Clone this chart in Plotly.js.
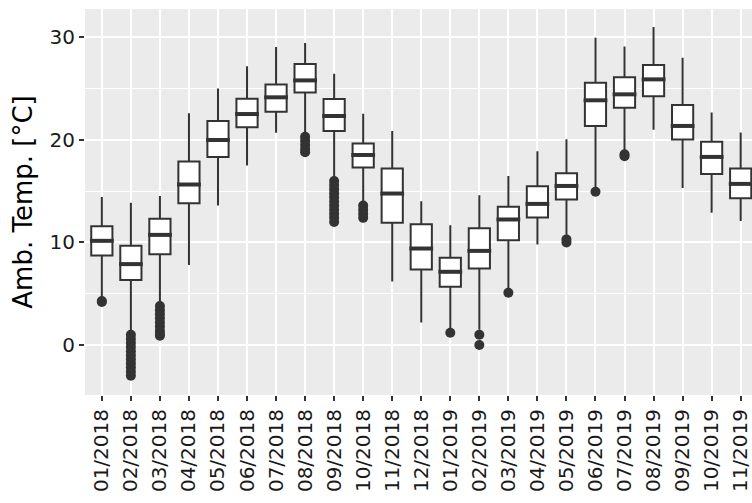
<!DOCTYPE html>
<html>
<head>
<meta charset="utf-8">
<script src="https://cdn.plot.ly/plotly-3.0.1.min.js"></script>
<style>
  html, body { margin: 0; padding: 0; background: #ffffff; }
  #chart { width: 752px; height: 503px; }
</style>
</head>
<body>
<div id="chart"></div>
<script>
// Monthly ambient temperature distribution, 2018-2019
const months = ["01/2018","02/2018","03/2018","04/2018","05/2018","06/2018",
                "07/2018","08/2018","09/2018","10/2018","11/2018","12/2018",
                "01/2019","02/2019","03/2019","04/2019","05/2019","06/2019",
                "07/2019","08/2019","09/2019","10/2019","11/2019"];

const lowerWhisker = [4.7, 1.3, 4.1, 7.8, 13.6, 17.5, 20.7, 20.6, 16.3, 14.0, 6.2, 2.2,
                      1.5, 1.5, 5.4, 9.8, 10.5, 15.3, 18.8, 21.0, 15.3, 12.9, 12.1];
const q1 =           [8.73, 6.33, 8.86, 13.83, 18.34, 21.23, 22.75, 24.63, 20.87, 17.3, 11.91, 7.37,
                      5.68, 7.47, 10.22, 12.43, 14.19, 21.36, 23.14, 24.25, 20.03, 16.68, 14.31];
const medians =      [10.16, 7.89, 10.74, 15.65, 19.99, 22.52, 24.15, 25.8, 22.33, 18.53, 14.77, 9.41,
                      7.14, 9.18, 12.24, 13.76, 15.51, 23.86, 24.44, 25.9, 21.36, 18.34, 15.71];
const q3 =           [11.59, 9.67, 12.3, 17.9, 21.84, 24.02, 25.41, 27.39, 23.98, 19.64, 17.2, 11.78,
                      8.5, 11.39, 13.47, 15.48, 16.75, 25.58, 26.1, 27.29, 23.4, 19.83, 17.2];
const upperWhisker = [14.44, 13.86, 14.54, 22.6, 25.0, 27.17, 29.05, 29.44, 26.45, 22.56, 20.87, 14.02,
                      11.68, 14.6, 16.49, 18.89, 20.06, 29.96, 29.11, 31.0, 28.0, 22.66, 20.71];

// Outlying observations per month
const outliers = [
  [4.2, 4.3],
  [1.0, 0.6, 0.2, -0.2, -0.6, -1.0, -1.4, -1.8, -2.2, -2.6, -3.0],
  [3.8, 3.4, 3.0, 2.6, 2.2, 1.8, 1.4, 1.1, 0.9],
  [], [], [], [],
  [20.3, 19.9, 19.5, 19.1, 18.8],
  [16.0, 15.6, 15.2, 14.8, 14.4, 14.0, 13.6, 13.2, 12.8, 12.4, 12.0],
  [13.6, 13.2, 12.8, 12.4],
  [], [],
  [1.2],
  [1.0, 0.0],
  [5.1],
  [],
  [10.3, 10.0],
  [14.95],
  [18.6, 18.4],
  [], [], [], []
];

const ink = "#333333";
const font = "DejaVu Sans";

const outX = [], outY = [];
outliers.forEach((vals, i) => vals.forEach(v => { outX.push(months[i]); outY.push(v); }));

const boxes = {
  type: "box",
  x: months,
  q1: q1,
  median: medians,
  q3: q3,
  lowerfence: lowerWhisker,
  upperfence: upperWhisker,
  width: 0.73,
  whiskerwidth: 0,
  boxpoints: false,
  fillcolor: "#ffffff",
  line: { color: ink, width: 2 },
  hoverinfo: "skip",
  showlegend: false
};

// heavier median bar on top of each box
const medianBars = {
  type: "scatter",
  mode: "markers",
  x: months,
  y: medians,
  marker: { symbol: "line-ew", size: 17, color: ink, line: { color: ink, width: 4 } },
  hoverinfo: "skip",
  showlegend: false
};

const outlierDots = {
  type: "scatter",
  mode: "markers",
  x: outX,
  y: outY,
  marker: { size: 10, color: ink },
  hoverinfo: "skip",
  showlegend: false
};

const layout = {
  width: 752,
  height: 503,
  margin: { l: 85, r: 0, t: 9, b: 108 },
  paper_bgcolor: "#ffffff",
  plot_bgcolor: "#EBEBEB",
  font: { family: font, color: "#1a1a1a" },
  showlegend: false,
  xaxis: {
    type: "category",
    categoryorder: "array",
    categoryarray: months,
    range: [-0.58, 22.39],
    showgrid: true,
    gridcolor: "#ffffff",
    gridwidth: 2,
    zeroline: false,
    showline: false,
    ticks: "outside",
    ticklen: 5,
    tickwidth: 2,
    tickcolor: ink,
    tickangle: -90,
    tickfont: { family: font, size: 20, color: "#1a1a1a" }
  },
  yaxis: {
    range: [-4.87, 32.76],
    tick0: 0,
    dtick: 10,
    showgrid: true,
    gridcolor: "#ffffff",
    gridwidth: 2,
    minor: { tick0: 0, dtick: 5, showgrid: true, gridcolor: "#ffffff", gridwidth: 1 },
    zeroline: false,
    showline: false,
    ticks: "outside",
    ticklen: 5,
    tickwidth: 2,
    tickcolor: ink,
    tickfont: { family: font, size: 20, color: "#1a1a1a" },
    title: { text: "Amb. Temp. [°C]", font: { family: font, size: 26, color: "#000000" }, standoff: 9 }
  }
};

Plotly.newPlot("chart", [boxes, medianBars, outlierDots], layout, { staticPlot: true, displayModeBar: false });
</script>
</body>
</html>
